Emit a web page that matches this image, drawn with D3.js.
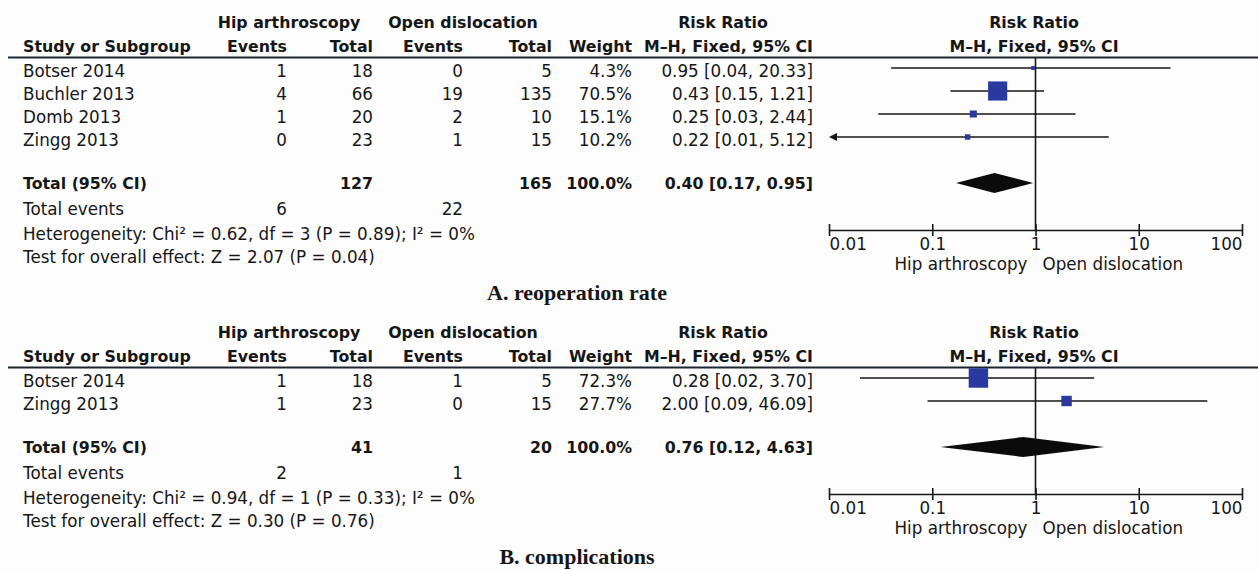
<!DOCTYPE html>
<html>
<head>
<meta charset="utf-8">
<script src="https://cdn.jsdelivr.net/npm/d3@7"></script>
<style>
  html, body { margin: 0; padding: 0; background: #fdfdfe; }
  svg { display: block; }
  text { font-family: "DejaVu Sans", Verdana, sans-serif; fill: #161616; }
  .reg { font-size: 16.75px; }
  .bold { font-size: 15.8px; font-weight: bold; }
  .caption { font-family: "Liberation Serif", "Times New Roman", serif; font-size: 22px; font-weight: bold; }
</style>
</head>
<body>
<svg id="chart" width="1258" height="570"></svg>
<script>
// ---- Panel A: reoperation rate ----
const studyA      = ["Botser 2014", "Buchler 2013", "Domb 2013", "Zingg 2013"];
const hipEventsA  = [1, 4, 1, 0];
const hipTotalA   = [18, 66, 20, 23];
const openEventsA = [0, 19, 2, 1];
const openTotalA  = [5, 135, 10, 15];
const weightA     = [4.3, 70.5, 15.1, 10.2];
const rrA         = [0.95, 0.43, 0.25, 0.22];
const lowerA      = [0.04, 0.15, 0.03, 0.01];
const upperA      = [20.33, 1.21, 2.44, 5.12];
const pooledA     = [0.40, 0.17, 0.95];      // estimate, lower, upper
const totalsA     = [127, 165, 100.0];       // hip N, open N, weight
const eventsA     = [6, 22];
const hetA        = "Heterogeneity: Chi² = 0.62, df = 3 (P = 0.89); I² = 0%";
const testA       = "Test for overall effect: Z = 2.07 (P = 0.04)";
const captionA    = "A. reoperation rate";

// ---- Panel B: complications ----
const studyB      = ["Botser 2014", "Zingg 2013"];
const hipEventsB  = [1, 1];
const hipTotalB   = [18, 23];
const openEventsB = [1, 0];
const openTotalB  = [5, 15];
const weightB     = [72.3, 27.7];
const rrB         = [0.28, 2.00];
const lowerB      = [0.02, 0.09];
const upperB      = [3.70, 46.09];
const pooledB     = [0.76, 0.12, 4.63];
const totalsB     = [41, 20, 100.0];
const eventsB     = [2, 1];
const hetB        = "Heterogeneity: Chi² = 0.94, df = 1 (P = 0.33); I² = 0%";
const testB       = "Test for overall effect: Z = 0.30 (P = 0.76)";
const captionB    = "B. complications";

// Axis ticks
const tickValues = [0.01, 0.1, 1, 10, 100];
const tickLabels = ["0.01", "0.1", "1", "10", "100"];
const favourLeft = "Hip arthroscopy";
const favourRight = "Open dislocation";

// ---- Layout ----
const W = 1258;
const col = { study: 23, hipEv: 287, hipN: 373, openEv: 463, openN: 552, weight: 632, rr: 813 };
const hdr = { hip: 289, open: 463, rr: 723, plot: 1034 };
const rowStep = 23;
const blue = "#2a399f";
const ink = "#161616";

const svg = d3.select("#chart");

const x = d3.scaleLog().domain([0.01, 100]).range([829, 1242]);
const boxSize = d3.scalePow().exponent(0.65).domain([0, 100]).range([0, 24]);

const fmtRR = (e, l, u) => `${e.toFixed(2)} [${l.toFixed(2)}, ${u.toFixed(2)}]`;
const fmtW = w => `${w.toFixed(1)}%`;

function drawPanel(top, p) {
  const g = svg.append("g").attr("transform", `translate(0,${top})`);
  const txt = (cls, xx, yy, s, anchor) =>
    g.append("text").attr("class", cls).attr("x", xx).attr("y", yy)
      .attr("text-anchor", anchor || "start").text(s);

  // Column headers
  txt("bold", hdr.hip, 28, "Hip arthroscopy", "middle");
  txt("bold", hdr.open, 28, "Open dislocation", "middle");
  txt("bold", hdr.rr, 28, "Risk Ratio", "middle");
  txt("bold", hdr.plot, 28, "Risk Ratio", "middle");
  txt("bold", col.study, 52, "Study or Subgroup");
  txt("bold", col.hipEv, 52, "Events", "end");
  txt("bold", col.hipN, 52, "Total", "end");
  txt("bold", col.openEv, 52, "Events", "end");
  txt("bold", col.openN, 52, "Total", "end");
  txt("bold", col.weight, 52, "Weight", "end");
  txt("bold", col.rr, 52, "M–H, Fixed, 95% CI", "end");
  txt("bold", hdr.plot, 52, "M–H, Fixed, 95% CI", "middle");

  g.append("line").attr("x1", 8).attr("x2", W).attr("y1", 57.5).attr("y2", 57.5)
    .attr("stroke", "#1c2430").attr("stroke-width", 2);

  const n = p.study.length;
  const rowY = d3.range(n).map(i => 77 + i * rowStep);
  const totalY = rowY[n - 1] + 43;
  const axisY = totalY + 41;

  // Study rows
  p.study.forEach((s, i) => {
    const y = rowY[i];
    txt("reg", col.study, y, s);
    txt("reg", col.hipEv, y, p.hipEv[i], "end");
    txt("reg", col.hipN, y, p.hipN[i], "end");
    txt("reg", col.openEv, y, p.openEv[i], "end");
    txt("reg", col.openN, y, p.openN[i], "end");
    txt("reg", col.weight, y, fmtW(p.weight[i]), "end");
    txt("reg", col.rr, y, fmtRR(p.rr[i], p.lo[i], p.hi[i]), "end");
  });

  // Totals and summary text
  txt("bold", col.study, totalY, "Total (95% CI)");
  txt("bold", col.hipN, totalY, p.totals[0], "end");
  txt("bold", col.openN, totalY, p.totals[1], "end");
  txt("bold", col.weight, totalY, fmtW(p.totals[2]), "end");
  txt("bold", col.rr, totalY, fmtRR(p.pooled[0], p.pooled[1], p.pooled[2]), "end");
  txt("reg", col.study, totalY + 26, "Total events");
  txt("reg", col.hipEv, totalY + 26, p.events[0], "end");
  txt("reg", col.openEv, totalY + 26, p.events[1], "end");
  txt("reg", col.study, totalY + 51, p.het);
  txt("reg", col.study, totalY + 74, p.test);

  // Line of no effect
  g.append("line").attr("x1", x(1)).attr("x2", x(1)).attr("y1", 57.5).attr("y2", axisY)
    .attr("stroke", ink).attr("stroke-width", 1.6);

  // Confidence intervals and weighted boxes
  const [dMin, dMax] = x.domain();
  p.study.forEach((s, i) => {
    const y = rowY[i] - 9;
    const lo = Math.max(p.lo[i], dMin), hi = Math.min(p.hi[i], dMax);
    const leftArrow = p.lo[i] <= dMin;
    g.append("line").attr("x1", x(lo) + (leftArrow ? 6 : 0)).attr("x2", x(hi))
      .attr("y1", y).attr("y2", y).attr("stroke", ink).attr("stroke-width", 1.4);
    if (leftArrow) {
      const ax = x(dMin);
      g.append("path").attr("d", `M${ax},${y} L${ax + 8},${y - 4} L${ax + 8},${y + 4} Z`).attr("fill", ink);
    }
    const sz = Math.max(boxSize(p.weight[i]), 4);
    g.append("rect").attr("x", x(p.rr[i]) - sz / 2).attr("y", y - sz / 2)
      .attr("width", sz).attr("height", sz).attr("fill", blue);
  });

  // Pooled diamond
  const dy = totalY - 6;
  g.append("path")
    .attr("d", `M${x(p.pooled[1])},${dy} L${x(p.pooled[0])},${dy - 10} L${x(p.pooled[2])},${dy} L${x(p.pooled[0])},${dy + 10} Z`)
    .attr("fill", "#0b0b0b");

  // Log axis
  const axis = d3.axisBottom(x).tickValues(tickValues)
    .tickFormat((d, i) => tickLabels[i]).tickSizeInner(5).tickSizeOuter(0);
  const ag = g.append("g").attr("transform", `translate(0,${axisY})`).call(axis);
  ag.select(".domain").attr("stroke", ink).attr("stroke-width", 1.6);
  ag.selectAll(".tick line").attr("y1", -6).attr("y2", 6).attr("stroke", ink).attr("stroke-width", 1.6);
  ag.selectAll(".tick text")
    .attr("class", "reg").attr("y", 20).attr("dy", null)
    .style("font-size", "16.75px").style("font-family", "'DejaVu Sans', Verdana, sans-serif")
    .attr("fill", ink)
    .attr("text-anchor", (d, i) => i === 0 ? "start" : (i === tickValues.length - 1 ? "end" : "middle"));
  ag.attr("font-size", null).attr("font-family", null);

  txt("reg", x(1) - 8, axisY + 40, favourLeft, "end");
  txt("reg", x(1) + 7, axisY + 40, favourRight, "start");

  return g;
}

drawPanel(0, {
  study: studyA, hipEv: hipEventsA, hipN: hipTotalA, openEv: openEventsA, openN: openTotalA,
  weight: weightA, rr: rrA, lo: lowerA, hi: upperA, pooled: pooledA, totals: totalsA,
  events: eventsA, het: hetA, test: testA
});
drawPanel(310, {
  study: studyB, hipEv: hipEventsB, hipN: hipTotalB, openEv: openEventsB, openN: openTotalB,
  weight: weightB, rr: rrB, lo: lowerB, hi: upperB, pooled: pooledB, totals: totalsB,
  events: eventsB, het: hetB, test: testB
});

svg.append("text").attr("class", "caption").attr("x", 577).attr("y", 300)
  .attr("text-anchor", "middle").text(captionA);
svg.append("text").attr("class", "caption").attr("x", 577).attr("y", 564)
  .attr("text-anchor", "middle").text(captionB);
</script>
</body>
</html>
